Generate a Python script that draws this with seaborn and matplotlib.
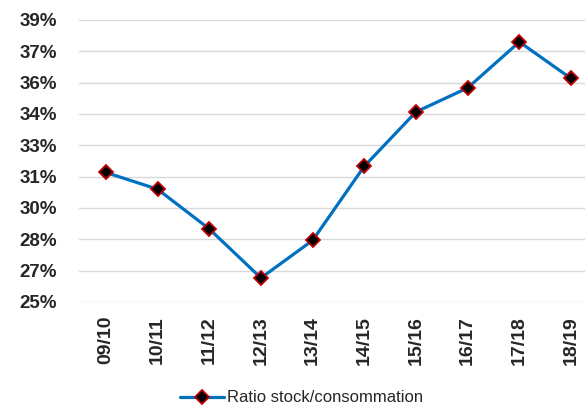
import pandas as pd
import matplotlib.pyplot as plt
import seaborn as sns

seasons = ["09/10", "10/11", "11/12", "12/13", "13/14",
           "14/15", "15/16", "16/17", "17/18", "18/19"]
ratio = [31.2, 30.4, 28.5, 26.15, 27.95, 31.5, 34.1, 35.25, 37.45, 35.7]

ytick_vals = [25, 26.5, 28, 29.5, 31, 32.5, 34, 35.5, 37, 38.5]
ytick_labels = ["25%", "27%", "28%", "30%", "31%", "33%", "34%", "36%", "37%", "39%"]

df = pd.DataFrame({"season": seasons, "ratio": ratio})

sns.set_style("white")
plt.rcParams["font.family"] = ["Liberation Sans", "DejaVu Sans"]

fig = plt.figure(figsize=(5.85, 4.08), dpi=100)
ax = fig.add_axes([79 / 585, 1 - 302 / 408, 1 - 79 / 585, 282 / 408])

sns.lineplot(data=df, x="season", y="ratio", sort=False, ax=ax,
             color="#0070C0", linewidth=2.3, marker="D", markersize=7.5,
             markerfacecolor="black", markeredgecolor="#C00000",
             markeredgewidth=1.3, label="Ratio stock/consommation")

ax.set_ylim(25, 38.5)
ax.set_xlim(-0.52, 9.27)
ax.set_yticks(ytick_vals)
ax.set_yticklabels(ytick_labels, fontsize=13.5, fontweight="bold")
ax.set_xticks(range(len(seasons)))
ax.set_xticklabels(seasons, rotation=90, fontsize=14, fontweight="bold")
ax.tick_params(axis="both", length=0)
ax.tick_params(axis="x", pad=10)
ax.tick_params(axis="y", pad=16)
ax.set_xlabel("")
ax.set_ylabel("")

ax.grid(axis="y", color="#D9D9D9", linewidth=1)
ax.set_axisbelow(True)
for s in ax.spines.values():
    s.set_visible(False)

ax.legend(loc="center", bbox_to_anchor=(0.5 - 0.06, -0.34), frameon=False,
          fontsize=12, handlelength=2.6, handletextpad=0.2,
          borderpad=0.1)

fig.savefig("out.png", dpi=100)
